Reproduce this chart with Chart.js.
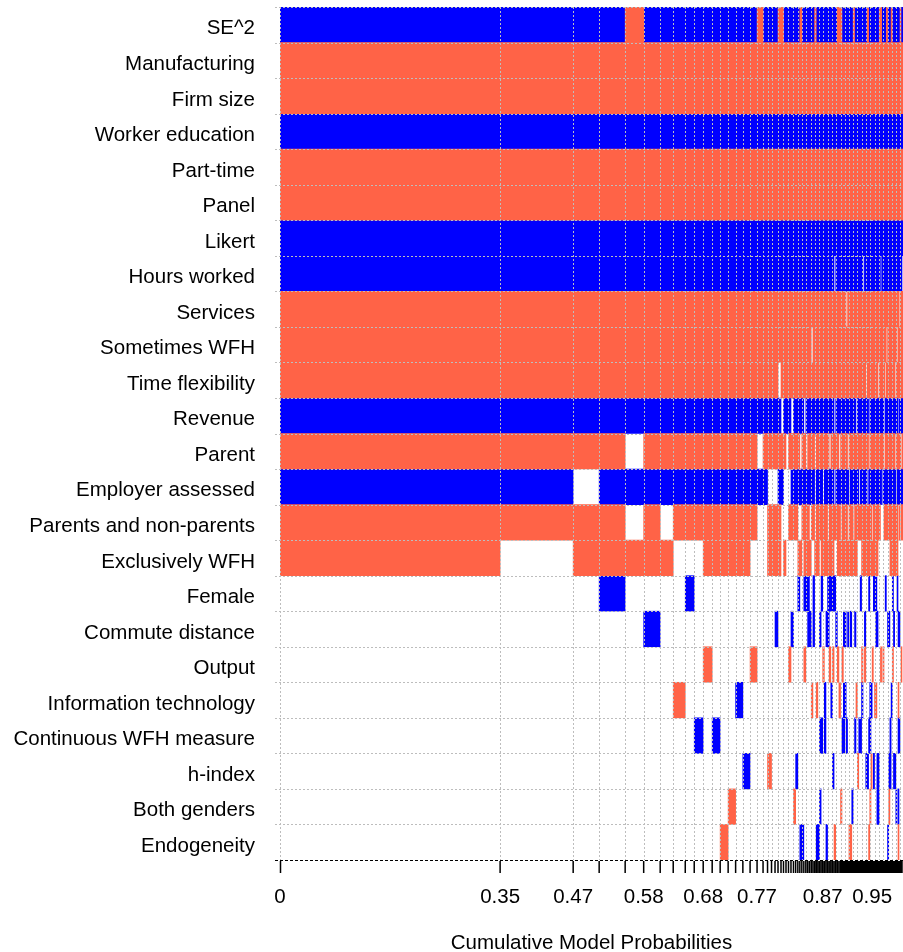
<!DOCTYPE html>
<html>
<head>
<meta charset="utf-8">
<script src="https://cdn.jsdelivr.net/npm/chart.js@4/dist/chart.umd.min.js"></script>
<style>
  html, body { margin: 0; padding: 0; background: #fff; }
  canvas { display: block; }
</style>
</head>
<body>
<canvas id="chart" width="903" height="952"></canvas>
<script>
// Regressors, top to bottom
const variables = [
  'SE^2', 'Manufacturing', 'Firm size', 'Worker education', 'Part-time', 'Panel', 'Likert',
  'Hours worked', 'Services', 'Sometimes WFH', 'Time flexibility', 'Revenue',
  'Parent', 'Employer assessed', 'Parents and non-parents', 'Exclusively WFH',
  'Female', 'Commute distance', 'Output', 'Information technology',
  'Continuous WFH measure', 'h-index', 'Both genders', 'Endogeneity'
];

// Posterior model probabilities, best model first
const modelProbs = [
  0.3531, 0.1172, 0.0417, 0.0417, 0.0297, 0.0265, 0.0209, 0.0193, 0.0144, 0.0144,
  0.0144, 0.0128, 0.0128, 0.0120, 0.0116, 0.0116, 0.0112, 0.0096, 0.0072, 0.0064,
  0.0056, 0.0048, 0.0048, 0.0040, 0.0040, 0.0040,
  0.0040, 0.0040, 0.0035, 0.0035, 0.0032, 0.0032, 0.0032, 0.0032, 0.0029, 0.0029,
  0.0029, 0.0027, 0.0027,
  0.0026, 0.0026, 0.0026, 0.0026, 0.0026, 0.0026, 0.0026, 0.0026,
  0.0026, 0.0026, 0.0026, 0.0026, 0.0026, 0.0026, 0.0026, 0.0026,
  0.00225, 0.00225, 0.00225, 0.00225, 0.00225, 0.00225, 0.00225, 0.00225, 0.00225, 0.00225,
  0.00225, 0.00225, 0.00225, 0.00225, 0.00225, 0.00225, 0.00225, 0.00225, 0.00225, 0.00225,
  0.0019, 0.0019, 0.0019, 0.0019, 0.0019, 0.0019, 0.0019, 0.0019, 0.0019, 0.0019, 0.0019, 0.0019,
  0.0019, 0.0019, 0.0019, 0.0019, 0.0019, 0.0019, 0.0019, 0.0019, 0.0019, 0.0019, 0.0019, 0.0019,
  0.0016, 0.0016, 0.0016, 0.0016, 0.0016, 0.0016
];

// Coefficient sign of each regressor in each model ('+' positive, '-' negative, '.' excluded),
// in the order of `variables`; spaces only group the columns
const modelSigns = [
  '-++-++- -+++- +-++ ........', '-++-++- -+++- +-+. ........', '-++-++- -+++- +.++ ........',
  '-++-++- -+++- +-++ -.......', '+++-++- -+++- .-.+ ........', '-++-++- -+++- +-++ .-......',
  '-++-++- -+++- +-.+ ........', '-++-++- -+++- +-+. ...+....', '-++-++- -+++- +-+. -.......',
  '-++-++- -+++- +-+. ....-...', '-++-++- -+++- +-++ ..+.....', '-++-++- -+++- +-++ ....-...',
  '-++-++- -+++- +-++ .......+', '-++-++- -+++- +-++ ......+.', '-++-++- -+++- +-++ ...-....',
  '-++-++- -+++- +-++ .....-..', '-++-++- -+++- +-+. ..+.....', '+++-++- -+++- .-.. ........',
  '-++-++- -+++- +-.. ........', '-++-++- -+++- +.++ .....+..', '-++-++- -+++- +.++ ........',
  '-++-++- -+++- +.++ .-......', '+++-++- -++.- +-++ ........', '+++-++- -+++. +-.. ........',
  '-++-++- -+++- +..+ ........', '-++-++- -+++- .... ........',

  '-++-++- -+++- +.+. ..+.....', '-++-++- -+++. +-+. .-......', '-++-++- -+++- +-+. ......+.',
  '-++-++- -+++- +-+. .....-..', '-++-++- -+++- +-.+ -.......', '+++-++- -+++- .-.+ .......-',
  '-++-++- -+++- +-+. .......-', '-++-++- -+++. +-++ -.+.....', '-++-++- -+++- .-++ -.......',
  '-++-++- -+++- +-++ --......', '-++-++- -+++- +-.+ .-......', '-++-++- -+.+- +-+. ...+....',
  '-++-++- -+++- +-+. --......',

  '+++-++- -+++- ...+ ........', '-++-++- -+++- +-++ ...+...-', '-++-++- -+++- +-++ .......-',
  '-++-++- -+++- +-+. .-..-.-.', '-++-++- -+++- +-++ -...-...', '-++-++- -+++- +.++ ..+.....',
  '-++-++- -+++- +-++ ...--...', '-++-++- -+++- +-++ .-.....-', '-++-++- -+++- +-.+ --......',
  '-++-++- -+++- .-++ -.+.....', '-++-++- -+++- +-++ -..-....', '-++-++- -+++- +-++ -.+..-..',
  '-++-++- .+++. +.+. -......+', '-++-++- -+++- +-+. .-......', '+++-++- -+++- +-++ ..+.....',
  '+++-++- -+++- .-++ ...+....',

  '+++-++- -+++- +-.+ ......+.', '-++-++- -+++- +-++ ..+.-...', '-++-++- -+++- +-++ .-.--...',
  '-++-++- -+++- +-++ .-.-....', '-++-++- -.++- +-++ ....-...', '-++-++- -+++- .-.+ .-......',
  '-++-++- -+++- +.++ .......+', '-++-++- -+++- +-++ .-.....+', '-++-++- -+++- +-++ ......-.',
  '+++-++- -+++- +-.+ ........', '-++-++- -+++- +-++ .-..-...', '-++-++- -+++. +-++ ...+....',
  '-++-++- -+++- +-+. .....+..', '-++-++- -+++- +.+. ....-...', '-++-++- -+++- +-+. -...-...',
  '-++-++- -+++- +-++ ..+-....', '-++-++- .+++- +-++ ........', '-++-++- -+++- +-++ .-+.....',
  '-++-++- -++.- +-++ .....-..', '+++-++- -+++- +.++ .....-..',

  '-++-++- -+++. .-++ -...-..+', '-++-++- -+++- +-++ ...--.+.', '-++-++- -+++- +-++ ...-.+..',
  '-++-++- -+++- +-.+ ..+.....', '-++-++- -+++- +-++ -....-..', '-++-++- -+++- +-++ -..+....',
  '-++-++- -+++- +-++ --.+....', '-++-++- -+++- +-++ .-...--.', '-++-++- -++.- +-+. .....--.',
  '+++-++- -+++- +-+. ........', '+++-++- .+++- +-.. ..+.....', '-++-++- -+++- +... ........',
  '-++-++- -+++- +-.. ..+.....', '-++-++- -+++. .-+. ........', '-++-++- -++.- +-+. -.......',
  '+++-++- -+.+- +-+. ........', '-++-++- -+++- +-+. .-.....-', '-++-++- -+++- +-+. .-...-+.',
  '-++-++- -+++- +-++ ....--..', '+++-++- -+++- +-++ ...-....', '-++-++- -+++- +-++ -.+.....',
  '-++-++- -+++- +-++ .-...-..', '-++-++- -++.- .-++ .....-..', '-++-++- -+++- +.++ ......-.',

  '-++-++- -+.+- +-++ -.......', '-++-++- -+++. +-.. .-.+-.-+', '-++-++- -.++- +-+. .-..-...',
  '+++-++- -+++- +-.. ........', '-++-++- -+++- .-+. ..+.....', '-++-++- .+++- +-+. ........'
];

// Cumulative probabilities printed under the axis
const tickLabels = ['0', '0.35', '0.47', '0.58', '0.68', '0.77', '0.87', '0.95'];

const POS_COLOR = '#FF6347';
const NEG_COLOR = '#0000FF';
const FONT = '"Liberation Sans", Arial, Helvetica, sans-serif';

// model boundaries on the cumulative-probability axis
const bounds = [0];
modelProbs.forEach(p => bounds.push(bounds[bounds.length - 1] + p));
const total = bounds[bounds.length - 1];

// one floating bar per run of neighbouring models with the same sign
const signs = modelSigns.map(s => s.replace(/ /g, ''));
const posData = [];
const negData = [];
variables.forEach((name, r) => {
  let i = 0;
  while (i < signs.length) {
    const c = signs[i][r];
    let j = i;
    while (j + 1 < signs.length && signs[j + 1][r] === c) j++;
    if (c === '+') posData.push({ x: [bounds[i], bounds[j + 1]], y: name });
    else if (c === '-') negData.push({ x: [bounds[i], bounds[j + 1]], y: name });
    i = j + 1;
  }
});

// dotted grid, bottom axis ticks, tick labels and axis title
const overlay = {
  id: 'overlay',
  afterDatasetsDraw(chart) {
    const { ctx, chartArea: a, scales: { x } } = chart;
    const rowH = (a.bottom - a.top) / variables.length;
    ctx.save();

    ctx.lineWidth = 1;
    ctx.strokeStyle = '#bdbdbd';
    ctx.setLineDash([2, 2]);
    let last = -Infinity;
    bounds.forEach(b => {
      const px = Math.round(x.getPixelForValue(b));
      if (px - last < 4 || px > a.right - 2) return;
      last = px;
      ctx.beginPath();
      ctx.moveTo(px + 0.5, a.top);
      ctx.lineTo(px + 0.5, a.bottom);
      ctx.stroke();
    });
    for (let r = 0; r < variables.length; r++) {
      const py = Math.round(a.top + r * rowH);
      ctx.beginPath();
      ctx.moveTo(a.left - 5, py + 0.5);
      ctx.lineTo(a.right, py + 0.5);
      ctx.stroke();
    }

    // bottom axis line
    ctx.strokeStyle = '#000';
    ctx.setLineDash([3, 2]);
    const by = Math.round(a.bottom);
    ctx.beginPath();
    ctx.moveTo(a.left - 5, by + 0.5);
    ctx.lineTo(a.right, by + 0.5);
    ctx.stroke();

    // a tick at every model boundary
    ctx.setLineDash([]);
    ctx.lineWidth = 1.5;
    ctx.beginPath();
    bounds.forEach(b => {
      const px = x.getPixelForValue(b);
      if (px > a.right - 0.5) return;
      const xx = px - a.left < 0.5 ? Math.round(px) + 0.5 : px;
      ctx.moveTo(xx, by + 1);
      ctx.lineTo(xx, by + 13);
    });
    ctx.stroke();

    // labels at the boundaries closest to the printed values
    ctx.fillStyle = '#000';
    ctx.font = '20.5px ' + FONT;
    ctx.textAlign = 'center';
    ctx.textBaseline = 'middle';
    tickLabels.forEach(t => {
      const v = parseFloat(t);
      let best = 0;
      bounds.forEach((b, k) => { if (Math.abs(b - v) < Math.abs(bounds[best] - v)) best = k; });
      ctx.fillText(t, x.getPixelForValue(bounds[best]), by + 37);
    });

    ctx.fillText('Cumulative Model Probabilities', (a.left + a.right) / 2, by + 83);
    ctx.restore();
  }
};

new Chart(document.getElementById('chart'), {
  type: 'bar',
  data: {
    labels: variables,
    datasets: [
      { label: 'positive', data: posData, backgroundColor: POS_COLOR },
      { label: 'negative', data: negData, backgroundColor: NEG_COLOR }
    ]
  },
  options: {
    indexAxis: 'y',
    responsive: false,
    animation: false,
    devicePixelRatio: 1,
    layout: { padding: { top: 7, right: 0, bottom: 92, left: 0 } },
    datasets: {
      bar: {
        grouped: false,
        barPercentage: 1,
        categoryPercentage: 1,
        borderWidth: 0,
        borderSkipped: false
      }
    },
    plugins: {
      legend: { display: false },
      tooltip: { enabled: false }
    },
    scales: {
      x: {
        type: 'linear',
        min: 0,
        max: total,
        display: false
      },
      y: {
        type: 'category',
        position: 'left',
        grid: { display: false, drawTicks: false },
        border: { display: false },
        ticks: {
          autoSkip: false,
          color: '#000',
          padding: 25,
          labelOffset: 4,
          font: { family: FONT, size: 20.5 }
        },
        afterFit(scale) {
          scale.width = 280;
          scale.paddingTop = 0;
          scale.paddingBottom = 0;
        }
      }
    }
  },
  plugins: [overlay]
});
</script>
</body>
</html>
